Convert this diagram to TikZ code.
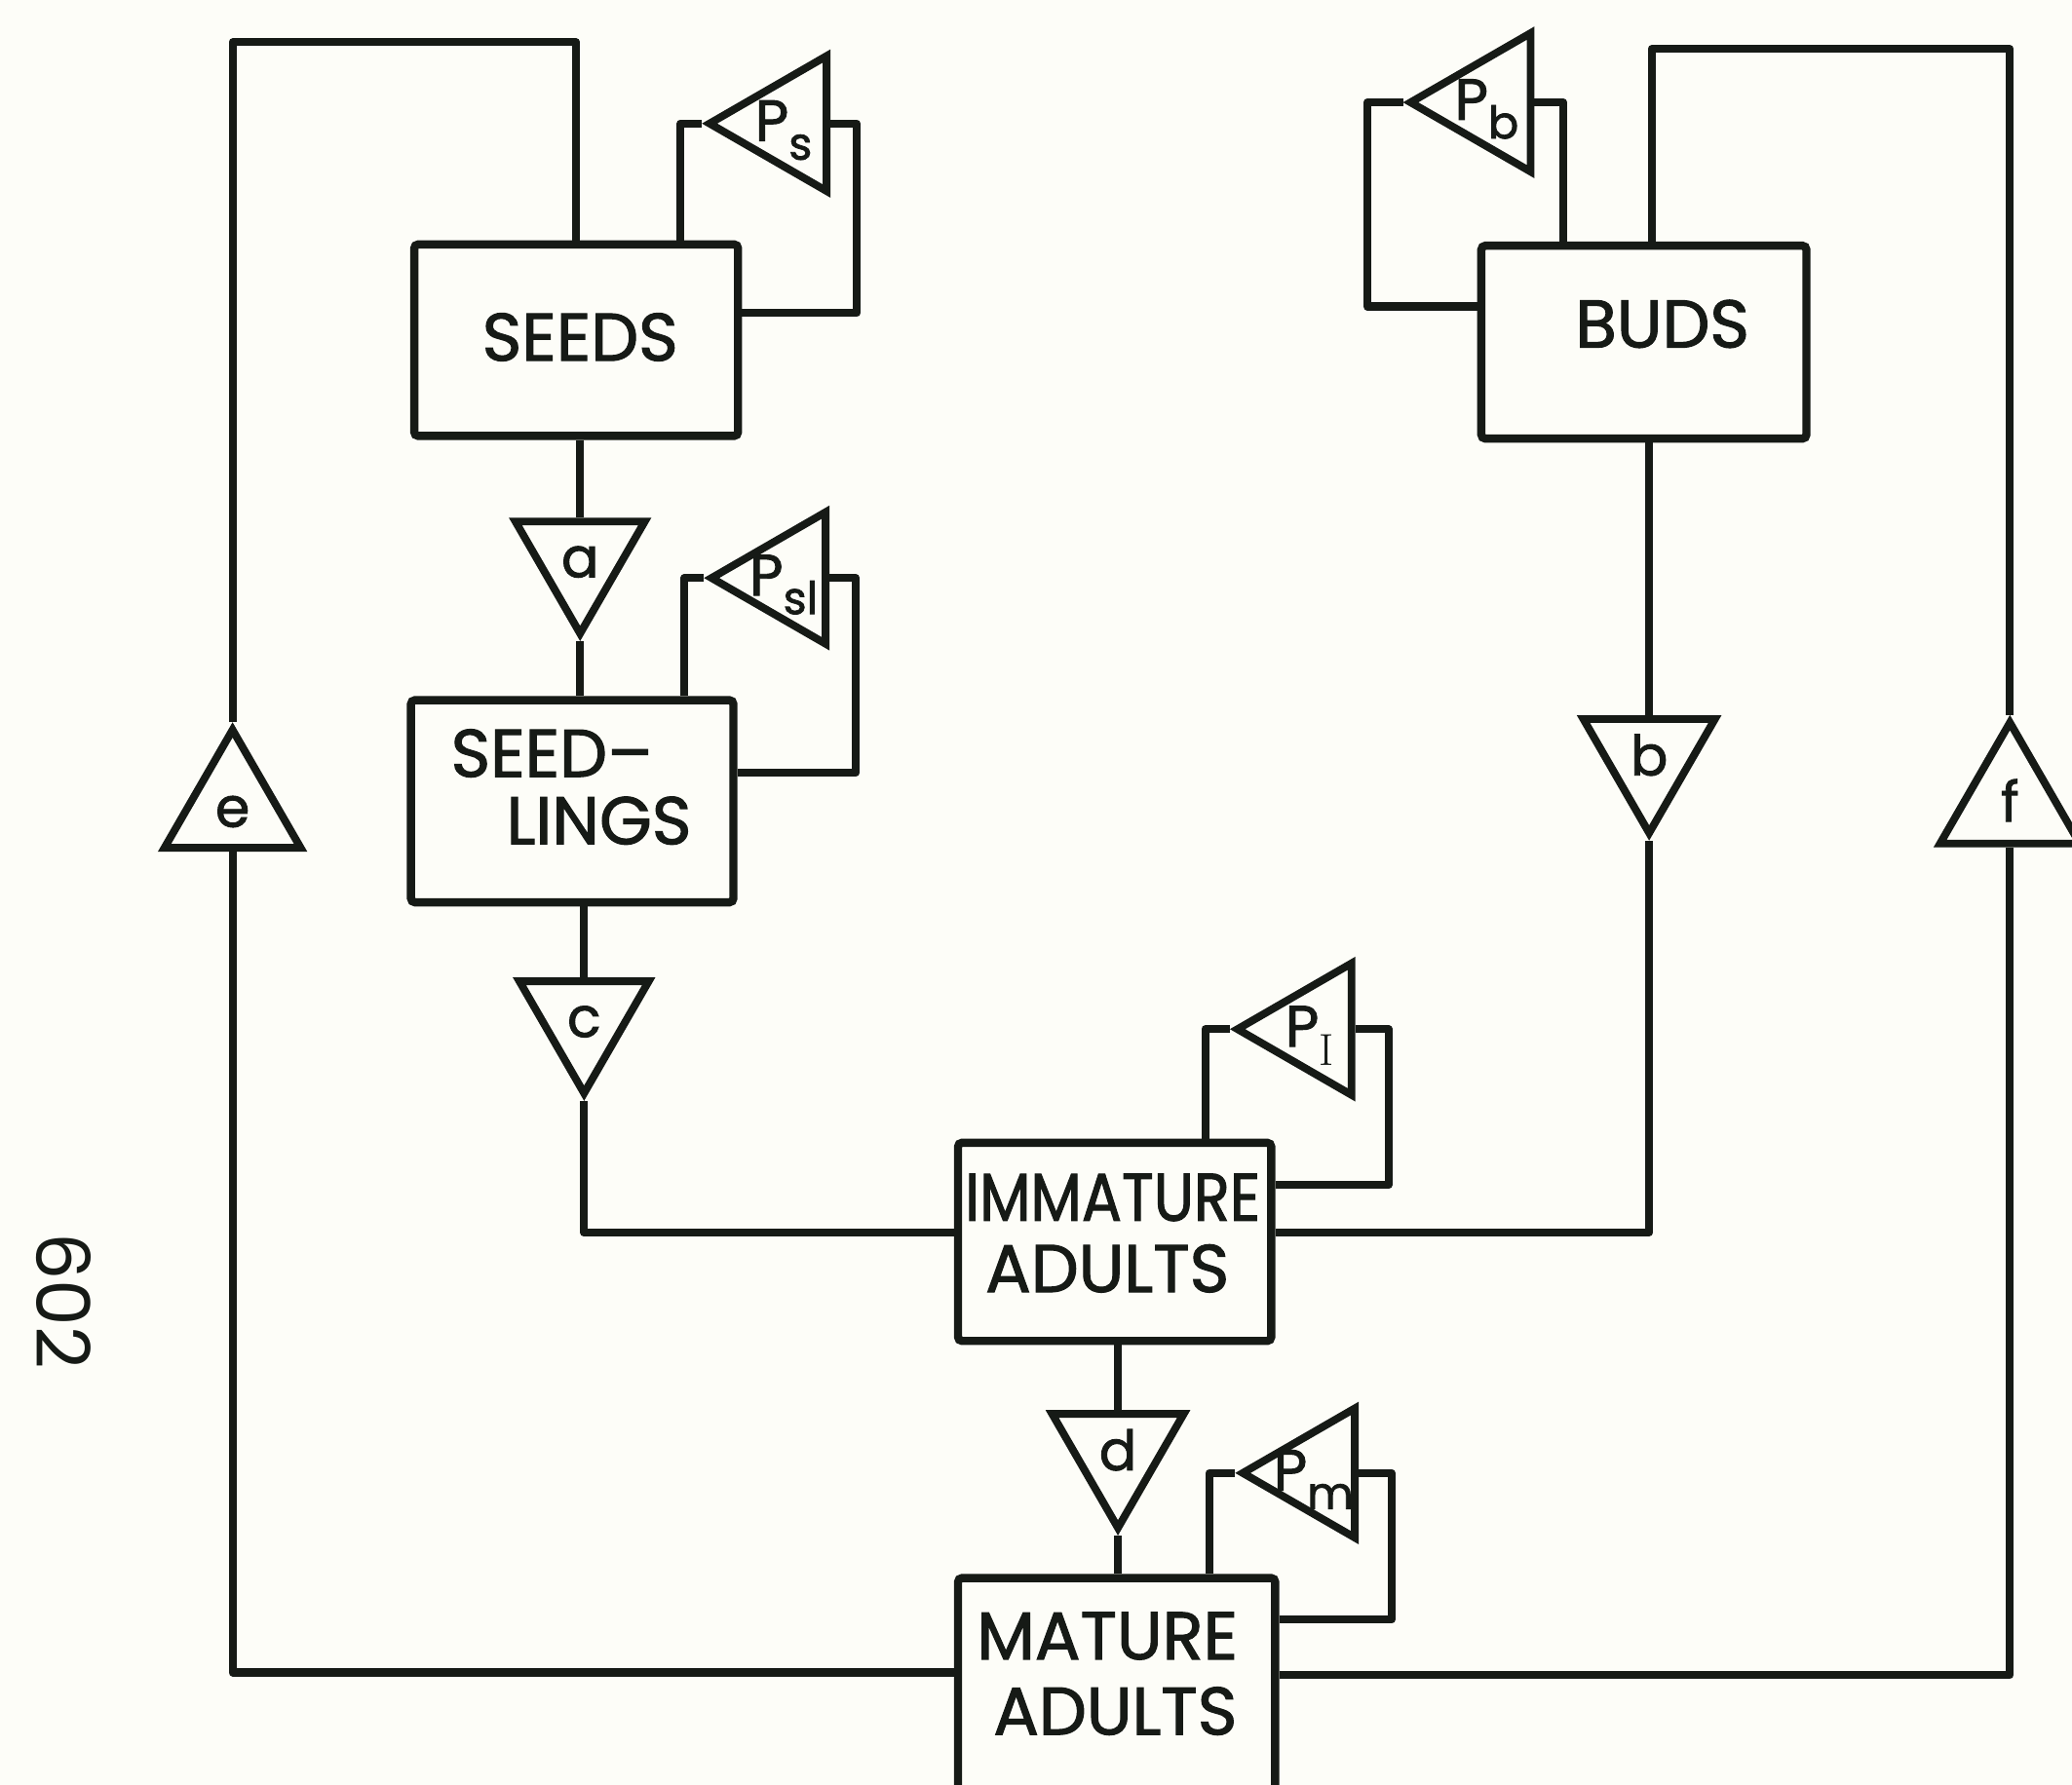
\documentclass[tikz,border=0pt]{standalone}
\usepackage{fontspec}
\usepackage{graphicx}
\newfontfamily\geo{Poppins}[FakeBold=1.6]
\newfontfamily\geoplain{Poppins}
\usetikzlibrary{shapes.geometric}
\definecolor{ink}{RGB}{22,26,22}
\definecolor{paper}{RGB}{253,253,248}
\newcommand\tl[1]{\makebox[0pt]{\raisebox{-0.33em}[0pt][0pt]{#1}}}
\newcommand\pl[1]{\makebox[0pt]{\hspace*{-6pt}\raisebox{-0.3em}[0pt][0pt]{P\raisebox{-0.32em}{\fontsize{34}{34}\selectfont #1}}}}
\begin{document}
\begin{tikzpicture}[x=1pt,y=-1pt,
  ln/.style={draw=ink, line width=6pt, line join=round},
  box/.style={draw=ink, line width=6.2pt, rounded corners=3pt, rectangle, inner sep=0pt},
  txt/.style={font=\geo\fontsize{51}{55}\selectfont, text=ink, inner sep=0pt, anchor=base},
  tri/.style={draw=ink, line width=5.8pt, regular polygon, regular polygon sides=3, inner sep=0pt,
              font=\geo\fontsize{42}{42}\selectfont, text=ink},
  dtri/.style={tri, shape border rotate=180},
  ptri/.style={tri, shape border rotate=90, font=\geo\fontsize{44}{44}\selectfont}]
\fill[paper] (0,0) rectangle (1568,1351);
\useasboundingbox (0,0) rectangle (1568,1351);

% boxes
\node[box, minimum width=245pt, minimum height=145pt] (SEEDS) at (436,257.5) {};
\node[box, minimum width=244pt, minimum height=153pt] (SL) at (433,606.5) {};
\node[box, minimum width=246pt, minimum height=146pt] (BUDS) at (1244,259) {};
\node[box, minimum width=237pt, minimum height=150pt] (IMM) at (843.5,940) {};
\node[box, minimum width=240pt, minimum height=171pt] (MAT) at (845,1280) {};

% box texts
\node[txt] (tSEEDS) at (439,273) {SEEDS};
\node[txt] (tBUDS) at (1258,263) {BUDS};
\node[txt, anchor=base west] (tSL1) at (341,588) {SEED–};
\node[txt, anchor=base west] (tSL2) at (383,639) {LINGS};
\node[txt] (tIMM1) at (842,924) {\scalebox{0.88}[1]{IMMATURE}};
\node[txt] (tIMM2) at (838,978) {ADULTS};
\node[txt] (tMAT1) at (838,1256) {MATURE};
\node[txt] (tMAT2) at (844,1313) {ADULTS};

% rate triangles
\node[dtri, minimum size=113pt] (a) at (439,423) {\tl{a}};
\node[dtri, minimum size=113pt] (c) at (442,771) {\tl{c}};
\node[dtri, minimum size=115pt] (b) at (1248,573) {\tl{b}};
\node[dtri, minimum size=115pt] (d) at (846,1099) {\tl{d}};
\node[tri, minimum size=119pt] (e) at (176,612) {\tl{e}};
\node[tri, minimum size=122pt] (f) at (1521,608) {\tl{f}};

% survival triangles
\node[ptri, minimum size=118pt] (Ps) at (596,93.5) {\pl{s}};
\node[ptri, minimum size=115pt] (Psl) at (596,437.5) {\pl{sl}};
\node[ptri, minimum size=121pt] (Pb) at (1128,77.5) {\pl{b}};
\node[ptri, minimum size=115pt] (PI) at (994,779) {\pl{\rmfamily I}};
\node[ptri, minimum size=113pt] (Pm) at (997,1115) {\pl{m}};

\coordinate (ytop) at (0,32);
\coordinate (ytopR) at (0,37);
\coordinate (btop) at ([xshift=6pt]BUDS.north);

% main flow
\draw[ln] (SEEDS.south -| a.north) -- (a.north);
\draw[ln] (a.south) -- (a.south |- SL.north);
\draw[ln] (SL.south -| c.north) -- (c.north);
\draw[ln] (c.south) |- ([yshift=7pt]IMM.west);
\draw[ln] (BUDS.south -| b.north) -- (b.north);
\draw[ln] (b.south) |- ([yshift=7pt]IMM.east);
\draw[ln] (IMM.south -| d.north) -- (d.north);
\draw[ln] (d.south) -- (d.south |- MAT.north);

% outer loops
\draw[ln] ([yshift=14pt]MAT.west) -| (e.south);
\draw[ln] (e.north) |- (ytop -| SEEDS.north) -- (SEEDS.north);
\draw[ln] ([yshift=12pt]MAT.east) -| (f.south);
\draw[ln] (f.north) |- (ytopR -| btop) -- (btop);

% survival loops
\draw[ln] (Ps.west) -| ([xshift=79pt]SEEDS.north);
\draw[ln] (Ps.east) -- ++(20,0) |- ([yshift=20.5pt]SEEDS.east);
\draw[ln] (Psl.west) -| ([xshift=85pt]SL.north);
\draw[ln] (Psl.east) -- ++(20,0) |- ([yshift=21.5pt]SL.east);
\draw[ln] (Pb.east) -| ([xshift=-61pt]BUDS.north);
\draw[ln] (Pb.west) -- ++(-27,0) |- ([yshift=27pt]BUDS.west);
\draw[ln] (PI.west) -| ([xshift=68.5pt]IMM.north);
\draw[ln] (PI.east) -- ++(25,0) |- ([yshift=43pt]IMM.east);
\draw[ln] (Pm.west) -| ([xshift=70pt]MAT.north);
\draw[ln] (Pm.east) -- ++(25,0) |- ([yshift=54pt]MAT.east);

% page number
\node[font=\geoplain\fontsize{56}{56}\selectfont, text=ink, rotate=-90, inner sep=0pt] (pg) at (48,985) {602};
\end{tikzpicture}
\end{document}
